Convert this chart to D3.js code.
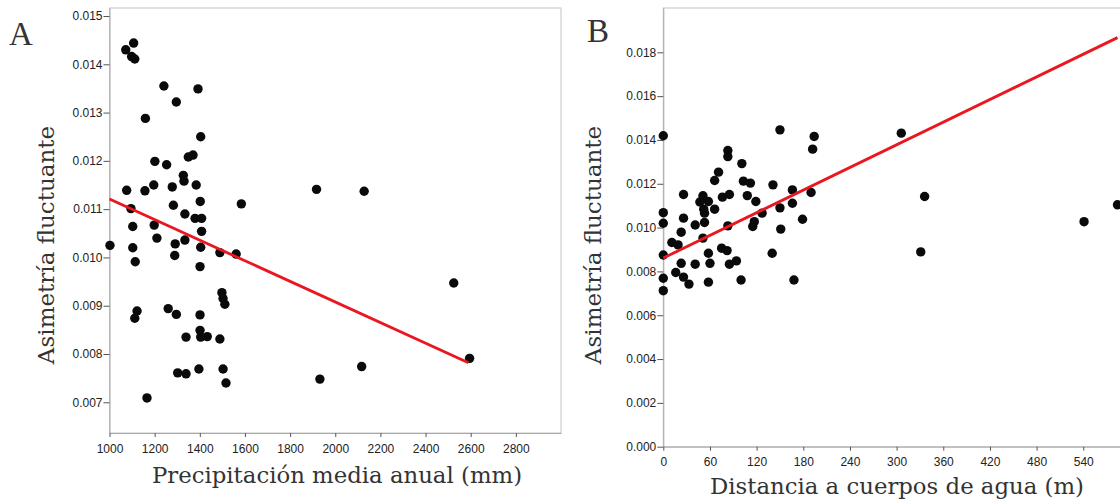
<!DOCTYPE html>
<html>
<head>
<meta charset="utf-8">
<script src="https://cdn.jsdelivr.net/npm/d3@7"></script>
<style>
  html, body { margin: 0; padding: 0; background: #fff; }
  svg { display: block; }
  .tick text { font-family: "Liberation Sans", Arial, sans-serif; font-size: 12px; fill: #222; }
  .tick line { stroke: #555; }
  .domain { stroke: #a8a8a8; }
  .title { font-family: "DejaVu Serif", "Liberation Serif", serif; fill: #333; }
  .letter { font-family: "Liberation Serif", serif; fill: #333; }
</style>
</head>
<body>
<div id="chart"></div>
<script>
// Panel A: precipitation (mm) vs fluctuating asymmetry
const precipA = [1072, 1107, 1098, 1112, 1241, 1392, 1296, 1159, 1404, 1201, 1253, 1349, 1370, 1327, 1330,
  1076, 1157, 1196, 1278, 1384, 1402, 1584, 1283, 1095, 1334, 1379, 1408, 1103, 1198, 1408, 1210, 1334, 1291,
  1002, 1103, 1404, 1489, 1561, 1289, 1114, 1401, 1498, 1503, 1511, 1122, 1112, 1260, 1296, 1401, 1401, 1404,
  1433, 1339, 1489, 1302, 1339, 1396, 1503, 1516, 1166, 1917, 2128, 2525, 2595, 1932, 2117];
const asymA = [0.01430, 0.01444, 0.01416, 0.01411, 0.01355, 0.01349, 0.01322, 0.01288, 0.01250, 0.01199,
  0.01192, 0.01208, 0.01212, 0.01170, 0.01158, 0.01139, 0.01138, 0.01150, 0.01146, 0.01150, 0.01116, 0.01111,
  0.01108, 0.01101, 0.01090, 0.01081, 0.01081, 0.01064, 0.01067, 0.01054, 0.01040, 0.01036, 0.01028, 0.01025,
  0.01020, 0.01021, 0.01010, 0.01007, 0.01004, 0.00991, 0.00981, 0.00927, 0.00915, 0.00903, 0.00889, 0.00874,
  0.00894, 0.00882, 0.00881, 0.00849, 0.00835, 0.00836, 0.00835, 0.00831, 0.00761, 0.00759, 0.00769, 0.00769,
  0.00740, 0.00709, 0.01141, 0.01137, 0.00947, 0.00791, 0.00748, 0.00774];
const fitA = [[1000, 0.01121], [2590, 0.00782]];
const xTicksA = [1000, 1200, 1400, 1600, 1800, 2000, 2200, 2400, 2600, 2800];
const yTicksA = [0.007, 0.008, 0.009, 0.010, 0.011, 0.012, 0.013, 0.014, 0.015];

// Panel B: distance to water bodies (m) vs fluctuating asymmetry
const distB = [0, 150, 194, 192, 83, 83, 101, 71, 66, 103, 112, 141, 26, 51, 76, 85, 108, 166, 190, 119, 47,
  58, 66, 52, 150, 166, 0, 0, 26, 53, 53, 41, 127, 117, 115, 83, 179, 151, 23, 51, 11, 19, 0, 58, 75, 82, 140,
  23, 41, 60, 85, 94, 0, 16, 26, 33, 58, 100, 168, 0, 306, 336, 331, 541, 584];
const asymB = [0.01419, 0.01446, 0.01416, 0.01358, 0.01352, 0.01324, 0.01292, 0.01253, 0.01215, 0.01212,
  0.01203, 0.01195, 0.01151, 0.01145, 0.01139, 0.01151, 0.01146, 0.01172, 0.01160, 0.01119, 0.01117, 0.01119,
  0.01084, 0.01084, 0.01090, 0.01111, 0.01068, 0.01020, 0.01043, 0.01066, 0.01023, 0.01012, 0.01066, 0.01027,
  0.01005, 0.01008, 0.01038, 0.00993, 0.00979, 0.00952, 0.00932, 0.00921, 0.00875, 0.00883, 0.00906, 0.00895,
  0.00883, 0.00837, 0.00833, 0.00837, 0.00833, 0.00848, 0.00769, 0.00795, 0.00774, 0.00742, 0.00751, 0.00761,
  0.00761, 0.00712, 0.01431, 0.01142, 0.00889, 0.01027, 0.01104];
const fitB = [[0, 0.00861], [584, 0.01867]];
const xTicksB = [0, 60, 120, 180, 240, 300, 360, 420, 480, 540];
const yTicksB = [0.000, 0.002, 0.004, 0.006, 0.008, 0.010, 0.012, 0.014, 0.016, 0.018];

const width = 1120, height = 501;

const svg = d3.select('#chart')
  .append('svg')
  .attr('width', width)
  .attr('height', height);

function drawPanel(cfg) {
  const x = d3.scaleLinear().domain(cfg.xDomain).range(cfg.xRange);
  const y = d3.scaleLinear().domain(cfg.yDomain).range(cfg.yRange);
  const g = svg.append('g');

  // frame
  g.append('rect')
    .attr('x', cfg.xRange[0])
    .attr('y', cfg.yRange[1])
    .attr('width', cfg.xRange[1] - cfg.xRange[0])
    .attr('height', cfg.yRange[0] - cfg.yRange[1])
    .attr('fill', 'none')
    .attr('stroke', '#c4c4c4');

  // x axis
  g.append('g')
    .attr('transform', `translate(0,${cfg.yRange[0]})`)
    .call(d3.axisBottom(x).tickValues(cfg.xTicks).tickFormat(d3.format('d'))
      .tickSizeInner(4).tickSizeOuter(0).tickPadding(cfg.xPad))
    .select('.domain').attr('stroke', '#a8a8a8');

  // y axis
  g.append('g')
    .attr('transform', `translate(${cfg.xRange[0]},0)`)
    .call(d3.axisLeft(y).tickValues(cfg.yTicks).tickFormat(d3.format('.3f'))
      .tickSizeInner(6).tickSizeOuter(0).tickPadding(1))
    .select('.domain').attr('stroke', '#a8a8a8');

  // points
  g.append('g')
    .selectAll('circle')
    .data(cfg.xs.map((d, i) => [d, cfg.ys[i]]))
    .enter()
    .append('circle')
    .attr('cx', d => x(d[0]))
    .attr('cy', d => y(d[1]))
    .attr('r', 4.7)
    .attr('fill', '#0a0a0a');

  // fit line
  g.append('path')
    .datum(cfg.fit)
    .attr('fill', 'none')
    .attr('stroke', '#ea1620')
    .attr('stroke-width', 2.8)
    .attr('d', d3.line().x(d => x(d[0])).y(d => y(d[1])));

  // titles
  g.append('text')
    .attr('class', 'title')
    .attr('x', cfg.xTitlePos[0])
    .attr('y', cfg.xTitlePos[1])
    .attr('text-anchor', 'middle')
    .style('font-size', '22.8px')
    .text(cfg.xTitle);

  g.append('text')
    .attr('class', 'title')
    .attr('transform', `translate(${cfg.yTitlePos[0]},${cfg.yTitlePos[1]}) rotate(-90)`)
    .attr('text-anchor', 'middle')
    .style('font-size', '23px')
    .text('Asimetría fluctuante');

  g.append('text')
    .attr('class', 'letter')
    .attr('x', cfg.letterPos[0])
    .attr('y', cfg.letterPos[1])
    .style('font-size', '33px')
    .text(cfg.letter);
}

drawPanel({
  xs: precipA, ys: asymA, fit: fitA,
  xDomain: [1000, 3000], xRange: [109.5, 561],
  yDomain: [0.006364, 0.015166], yRange: [433, 8],
  xTicks: xTicksA, yTicks: yTicksA, xPad: 7,
  xTitle: 'Precipitación media anual (mm)', xTitlePos: [337, 483],
  yTitlePos: [54, 245], letter: 'A', letterPos: [9, 45]
});

drawPanel({
  xs: distB, ys: asymB, fit: fitB,
  xDomain: [0, 620], xRange: [663.3, 1145.5],
  yDomain: [0, 0.020022], yRange: [446.7, 8],
  xTicks: xTicksB, yTicks: yTicksB, xPad: 7,
  xTitle: 'Distancia a cuerpos de agua (m)', xTitlePos: [897, 494],
  yTitlePos: [601, 245], letter: 'B', letterPos: [587, 42]
});
</script>
</body>
</html>
